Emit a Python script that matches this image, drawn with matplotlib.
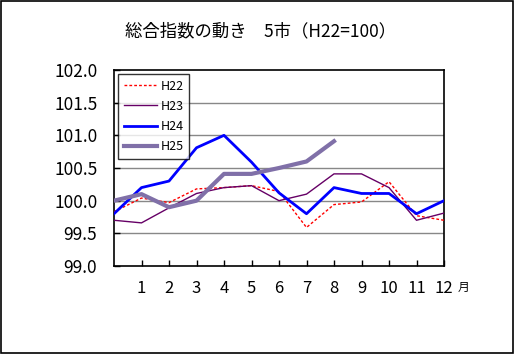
import matplotlib
matplotlib.use("Agg")
import matplotlib.pyplot as plt
from matplotlib.patches import Rectangle

plt.rcParams['font.family'] = ['Noto Sans CJK JP', 'DejaVu Sans']

# 前年12月 + 1..12月
months = list(range(0, 13))
month_labels = ['', '1', '2', '3', '4', '5', '6', '7', '8', '9', '10', '11', '12']

h22 = [99.83, 100.04, 99.97, 100.18, 100.20, 100.23, 100.14, 99.59, 99.94, 99.98, 100.29, 99.77, 99.70]
h23 = [99.70, 99.66, 99.89, 100.11, 100.20, 100.23, 100.00, 100.10, 100.41, 100.41, 100.20, 99.70, 99.81]
h24 = [99.80, 100.20, 100.30, 100.81, 101.00, 100.59, 100.12, 99.80, 100.20, 100.11, 100.11, 99.80, 100.00]
h25 = [100.00, 100.10, 99.90, 100.00, 100.41, 100.41, 100.50, 100.60, 100.91]

y_ticks = [99.0, 99.5, 100.0, 100.5, 101.0, 101.5, 102.0]

fig = plt.figure(figsize=(5.23, 3.58), dpi=100)
ax = fig.add_axes([114 / 523, 1 - 266 / 358, 330 / 523, 196 / 358])

for y in [99.5, 100.0, 100.5, 101.0, 101.5]:
    ax.axhline(y, color='#888888', lw=1.0, zorder=1)

ax.plot(months, h22, color='#ff0000', lw=1.0, ls=(0, (2, 1.5)), label='H22', zorder=3)
ax.plot(months, h23, color='#660066', lw=1.0, label='H23', zorder=3)
ax.plot(months, h24, color='#0000ff', lw=2.0, label='H24', zorder=4)
ax.plot(months[:len(h25)], h25, color='#8070a8', lw=3.0, label='H25', zorder=5)

ax.set_xlim(0, 12)
ax.set_ylim(99.0, 102.0)
ax.set_xticks(months[1:])
ax.set_xticklabels(month_labels[1:], fontsize=12)
ax.set_yticks(y_ticks)
ax.set_yticklabels([f'{v:.1f}' for v in y_ticks], fontsize=12.5)
ax.tick_params(direction='in', length=4, width=1, color='black')
ax.tick_params(axis='y', pad=12)
ax.tick_params(axis='x', pad=10)
for s in ax.spines.values():
    s.set_linewidth(1.2)

ax.text(1.06, -0.107, '月', transform=ax.transAxes, fontsize=8.5, ha='center', va='center')

leg = ax.legend(loc='upper left', bbox_to_anchor=(0.012, 0.98), fontsize=9,
                frameon=True, fancybox=False, edgecolor='black', handlelength=2.7,
                handletextpad=0.25, labelspacing=0.58, borderpad=0.45, borderaxespad=0)
leg.get_frame().set_linewidth(1.0)

fig.text(261 / 523, 1 - 31 / 358, '総合指数の動き　5市（H22=100）', fontsize=12.5,
         ha='center', va='center')

fig.patches.append(Rectangle((0.5 / 523, 1 - 352.5 / 358), 512.5 / 523, 352 / 358,
                             transform=fig.transFigure, fill=False, edgecolor='black', lw=1.2))

fig.savefig('out.png', dpi=100)
